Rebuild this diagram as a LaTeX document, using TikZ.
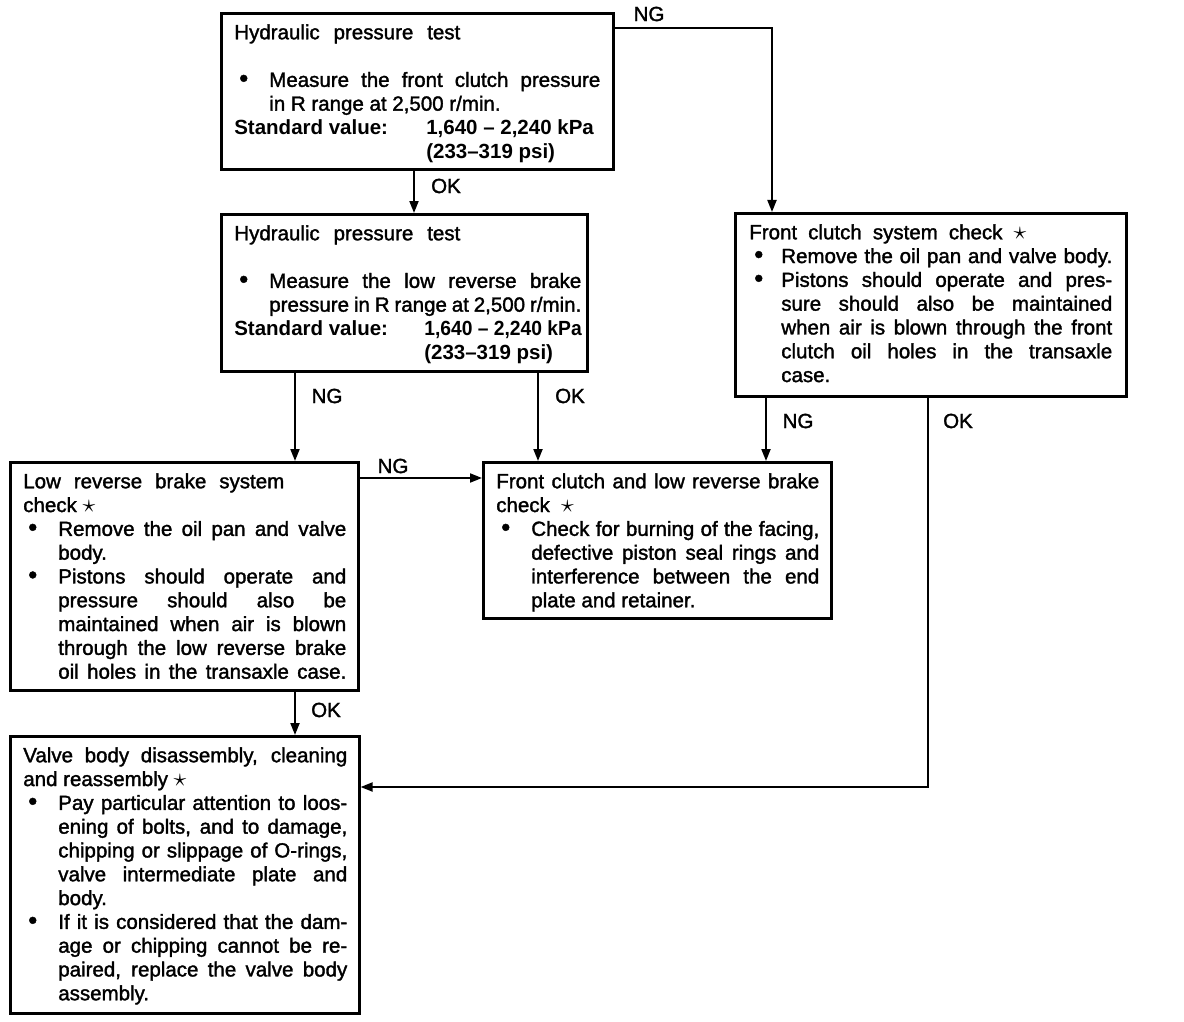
\documentclass[tikz,border=0pt]{standalone}
\usepackage{fontspec}
\setmainfont{Liberation Sans}[UprightFeatures={FakeBold=1.6}]
\usetikzlibrary{arrows.meta}
\newlength{\bi}
\setlength{\bi}{35pt}
\newcommand{\bul}{\makebox[\bi][l]{\hspace*{5pt}\scalebox{1.25}{\textbullet}}}
\newcommand{\str}{\scalebox{1.25}{$\star$}}
\newcommand{\tline}[1]{\noindent #1\par}
\newcommand{\tjus}[1]{\noindent\makebox[\linewidth][s]{#1}\par}
\newcommand{\tw}[2]{\noindent\makebox[#1][s]{#2}\par}
\newcommand{\bjus}[1]{\noindent\bul\makebox[\dimexpr\linewidth-\bi\relax][s]{#1}\par}
\newcommand{\cjus}[1]{\noindent\hspace*{\bi}\makebox[\dimexpr\linewidth-\bi\relax][s]{#1}\par}
\newcommand{\cont}[1]{\noindent\hspace*{\bi}#1\par}
\newcommand{\boxtext}[5]{\hspace*{#1}\parbox[c][#3][t]{#2}{\strut #5}\hspace*{#4}}
\tikzset{
  box/.style={draw, line width=2.6pt, inner xsep=0pt, inner ysep=9.3pt, anchor=north west,
    font=\fontsize{20.5}{23.8}\selectfont},
  arr/.style={line width=2pt, -{Triangle[length=12pt,width=9pt]}},
  lbl/.style={font=\fontsize{20.5}{23.8}\selectfont, inner sep=0pt}
}
\begin{document}
\begin{tikzpicture}[x=1pt,y=-1pt]
\useasboundingbox (0,0) rectangle (1184,1022);

% boxes
\node[box] (A) at (220,12) {\boxtext{13pt}{366pt}{137.4pt}{13pt}{%
  \tw{226pt}{Hydraulic pressure test}
  \strut\par
  \bjus{Measure the front clutch pressure}
  \cont{in R range at 2,500 r/min.}
  \noindent\mbox{\textbf{\makebox[192pt][l]{Standard value:}1,640 – 2,240 kPa}}\par
  \noindent\hspace*{192pt}\textbf{(233–319 psi)}\par}};

\node[box] (B) at (220,213) {\boxtext{13pt}{347pt}{138.4pt}{6pt}{%
  \tw{226pt}{Hydraulic pressure test}
  \strut\par
  \bjus{Measure the low reverse brake}
  \cjus{pressure in R range at 2,500 r/min.}
  \noindent\mbox{\textbf{\makebox[190pt][l]{Standard value:}\scalebox{0.94}[1]{1,640 – 2,240 kPa}}}\par
  \noindent\hspace*{190pt}\textbf{(233–319 psi)}\par}};

\node[box] (C) at (734,212) {\boxtext{14pt}{363pt}{164.4pt}{14pt}{%
  \setlength{\bi}{32pt}%
  \tw{277pt}{Front clutch system check \str}
  \bjus{Remove the oil pan and valve body.}
  \bjus{Pistons should operate and pres-}
  \cjus{sure should also be maintained}
  \cjus{when air is blown through the front}
  \cjus{clutch oil holes in the transaxle}
  \cont{case.}}};

\node[box] (D) at (9,461) {\boxtext{13pt}{323pt}{209.4pt}{12pt}{%
  \tw{261pt}{Low reverse brake system}
  \tline{check \str}
  \bjus{Remove the oil pan and valve}
  \cont{body.}
  \bjus{Pistons should operate and}
  \cjus{pressure should also be}
  \cjus{maintained when air is blown}
  \cjus{through the low reverse brake}
  \cjus{oil holes in the transaxle case.}}};

\node[box] (E) at (482,461) {\boxtext{13pt}{323pt}{137.4pt}{12pt}{%
  \tjus{Front clutch and low reverse brake}
  \tline{check \ \str}
  \bjus{Check for burning of the facing,}
  \cjus{defective piston seal rings and}
  \cjus{interference between the end}
  \cont{plate and retainer.}}};

\node[box] (F) at (9,735) {\boxtext{13pt}{324pt}{258.4pt}{12pt}{%
  \tjus{Valve body disassembly, cleaning}
  \tline{and reassembly \str}
  \bjus{Pay particular attention to loos-}
  \cjus{ening of bolts, and to damage,}
  \cjus{chipping or slippage of O-rings,}
  \cjus{valve intermediate plate and}
  \cont{body.}
  \bjus{If it is considered that the dam-}
  \cjus{age or chipping cannot be re-}
  \cjus{paired, replace the valve body}
  \cont{assembly.}}};

% helper coordinates
\coordinate (xa) at (414,0);
\coordinate (ya) at (0,28);
\coordinate (xc) at (772,0);
\coordinate (xb1) at (295,0);
\coordinate (xb2) at (538,0);
\coordinate (xc2) at (766,0);
\coordinate (xc3) at (928,0);
\coordinate (yf) at (0,787);
\coordinate (yd) at (0,478);

% connectors
\draw[arr] (A.south -| xa) -- (B.north -| xa);
\draw[arr] (A.east |- ya) -| (C.north -| xc);
\draw[arr] (B.south -| xb1) -- (D.north -| xb1);
\draw[arr] (B.south -| xb2) -- (E.north -| xb2);
\draw[arr] (C.south -| xc2) -- (E.north -| xc2);
\draw[arr] (C.south -| xc3) |- (F.east |- yf);
\draw[arr] (D.east |- yd) -- (E.west |- yd);
\draw[arr] (D.south -| xb1) -- (F.north -| xb1);

% labels
\node[lbl] (l1) at (649,14) {NG};
\node[lbl] (l2) at (446,186) {OK};
\node[lbl] (l3) at (327,396) {NG};
\node[lbl] (l4) at (570,396) {OK};
\node[lbl] (l5) at (798,421) {NG};
\node[lbl] (l6) at (958,421) {OK};
\node[lbl] (l7) at (393,466) {NG};
\node[lbl] (l8) at (326,710) {OK};
\end{tikzpicture}
\end{document}
